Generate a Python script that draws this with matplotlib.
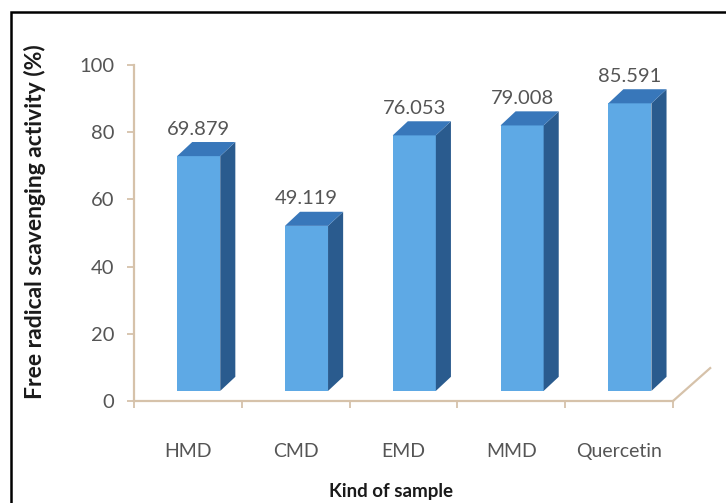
import matplotlib
matplotlib.use("Agg")
import matplotlib.pyplot as plt
from matplotlib.patches import Polygon, Rectangle
from matplotlib import font_manager

# --- data -------------------------------------------------------------
categories = ["HMD", "CMD", "EMD", "MMD", "Quercetin"]
activity = [69.879, 49.119, 76.053, 79.008, 85.591]
y_ticks = [0, 20, 40, 60, 80, 100]

# --- fonts ------------------------------------------------------------
available = {f.name for f in font_manager.fontManager.ttflist}
family = next(f for f in ["Lato", "Open Sans", "DejaVu Sans"] if f in available)
plt.rcParams["font.family"] = [family, "DejaVu Sans"]

W, H, DPI = 726, 503, 100
fig = plt.figure(figsize=(W / DPI, H / DPI), dpi=DPI)
fig.patch.set_facecolor("white")

# plot area in pixel terms
left_px, right_px, bottom_px, top_px = 134, 673, 401, 65
ax = fig.add_axes([left_px / W, 1 - bottom_px / H,
                   (right_px - left_px) / W, (bottom_px - top_px) / H])
ax.set_xlim(-0.5, len(categories) - 0.5)
ax.set_ylim(0, 100)

axis_col = "#D6C2AA"
text_col = "#555555"
front_col = "#5EA9E5"
side_col = "#2A5B8E"
top_col = "#3877BA"

# 3D look: bars sit slightly behind the front floor edge
base = 3.0           # lift of the front face above the floor edge
off_x = 0.10         # shift of the front face to the right
bar_w = 0.40
depth_x = 0.14       # horizontal depth of the box
depth_y = 4.2        # vertical depth of the box

xs = list(range(len(categories)))
ax.bar([x + off_x for x in xs], activity, width=bar_w, bottom=base,
       color=front_col, edgecolor="none", zorder=3)

for x, v in zip(xs, activity):
    x0 = x + off_x - bar_w / 2
    x1 = x + off_x + bar_w / 2
    y0 = base
    y1 = base + v
    side = Polygon([(x1, y0), (x1 + depth_x, y0 + depth_y),
                    (x1 + depth_x, y1 + depth_y), (x1, y1)],
                   closed=True, facecolor=side_col, edgecolor="none", zorder=3)
    top = Polygon([(x0, y1), (x1, y1), (x1 + depth_x, y1 + depth_y),
                   (x0 + depth_x, y1 + depth_y)],
                  closed=True, facecolor=top_col, edgecolor="none", zorder=3)
    ax.add_patch(side)
    ax.add_patch(top)
    ax.text(x + off_x, y1 + depth_y + 1.3, f"{v:.3f}", ha="center", va="bottom",
            fontsize=14.5, color=text_col, zorder=4)

# axes styling
for s in ["top", "right"]:
    ax.spines[s].set_visible(False)
for s in ["left", "bottom"]:
    ax.spines[s].set_color(axis_col)
    ax.spines[s].set_linewidth(1.6)

ax.set_yticks(y_ticks)
ax.tick_params(axis="y", colors=axis_col, labelcolor=text_col, labelsize=14.5,
               length=5, width=1.3, pad=9)

ax.set_xticks(xs)
ax.set_xticklabels(categories)
ax.set_xticks([x - 0.5 for x in xs] + [len(xs) - 0.5], minor=True)
ax.tick_params(axis="x", which="major", length=0, labelcolor=text_col,
               labelsize=14, pad=30)
ax.tick_params(axis="x", which="minor", length=5, width=1.3, colors=axis_col)

# floor receding edge on the right
ax.plot([len(xs) - 0.5, len(xs) - 0.5 + 0.345], [0, 9.8], color=axis_col,
        lw=1.6, clip_on=False, zorder=2)

fig.text(35 / W, 1 - 222 / H, "Free radical scavenging activity (%)",
         rotation=90, ha="center", va="center", fontsize=16.5,
         fontweight="bold", color="#1a1a1a")
fig.text(391 / W, 1 - 491 / H, "Kind of sample", ha="center", va="center",
         fontsize=13.5, fontweight="bold", color="#1a1a1a")

# frame around the chart (open at right and bottom)
fig.add_artist(Rectangle((11 / W, -0.05), 1.2, 1.05 - 12 / H,
                         transform=fig.transFigure, fill=False,
                         edgecolor="black", linewidth=1.8))

fig.savefig("out.png", dpi=DPI, facecolor="white")
